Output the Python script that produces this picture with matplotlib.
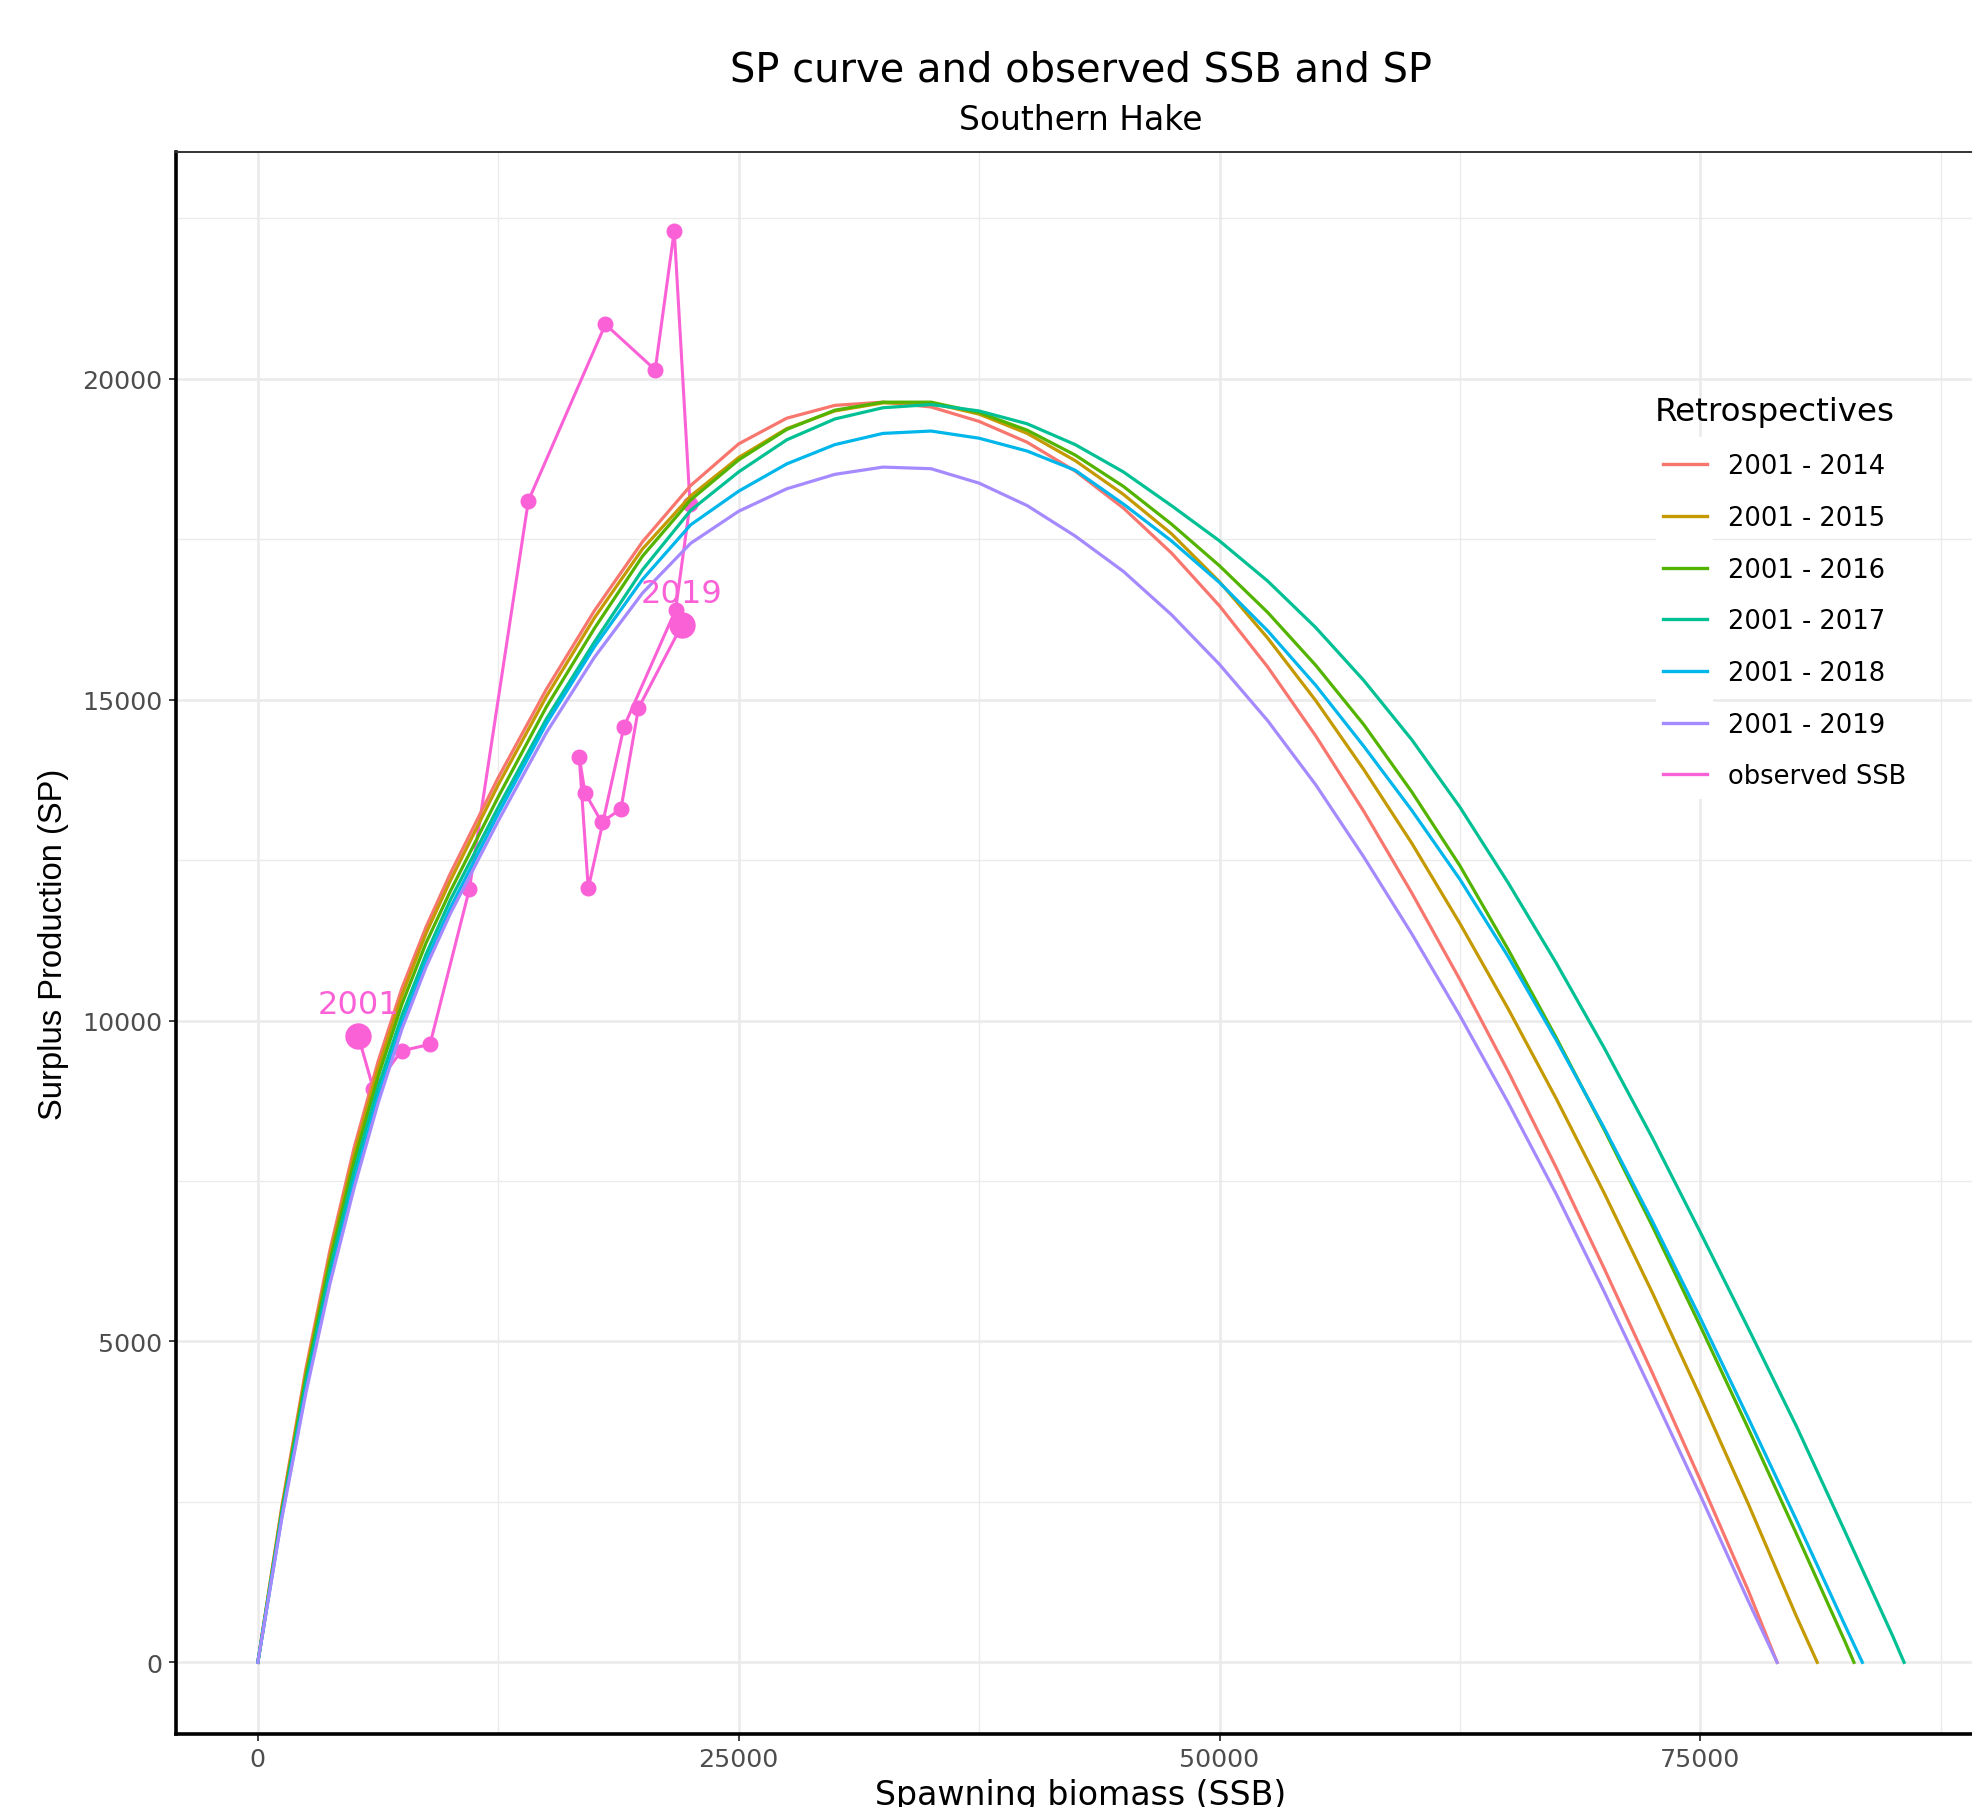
import matplotlib
matplotlib.use("Agg")
import matplotlib.pyplot as plt
from matplotlib.lines import Line2D
from matplotlib.patches import Rectangle

plt.rcParams['font.family'] = ['DejaVu Sans']

# ---------------- data ----------------
ssb_grid = [0, 1250, 2500, 3750, 5000, 6250, 7500, 8750, 10000,
            12500, 15000, 17500, 20000, 22500, 25000, 27500, 30000, 32500,
            35000, 37500, 40000, 42500, 45000, 47500, 50000, 52500, 55000,
            57500, 60000, 62500, 65000, 67500, 70000, 72500, 75000, 77500,
            80000, 82500, 85000]

retro_labels = ["2001 - 2014", "2001 - 2015", "2001 - 2016",
                "2001 - 2017", "2001 - 2018", "2001 - 2019"]

# SSB where each curve returns to zero
k_2014 = 78990
k_2015 = 81075
k_2016 = 82985
k_2017 = 85590
k_2018 = 83420
k_2019 = 78990

sp_2014 = [0, 2438, 4575, 6425, 8012, 9362, 10512, 11462, 12287,
           13787, 15162, 16387, 17462, 18337, 18987, 19387, 19587, 19637,
           19562, 19337, 19012, 18562, 17987, 17287, 16462, 15512, 14437,
           13262, 11987, 10637, 9212, 7712, 6137, 4512, 2837, 1112]
sp_2015 = [0, 2400, 4512, 6337, 7912, 9250, 10400, 11362, 12175,
           13675, 15050, 16275, 17350, 18175, 18775, 19225, 19500, 19625,
           19625, 19450, 19150, 18725, 18200, 17587, 16837, 15962, 14987,
           13912, 12762, 11512, 10187, 8787, 7312, 5762, 4137, 2462,
           712]
sp_2016 = [0, 2362, 4450, 6250, 7800, 9125, 10262, 11212, 12012,
           13487, 14887, 16112, 17237, 18112, 18737, 19212, 19512, 19637,
           19637, 19475, 19200, 18812, 18325, 17737, 17087, 16362, 15537,
           14612, 13562, 12412, 11112, 9737, 8300, 6800, 5237, 3637,
           1999, 336]
sp_2017 = [0, 2325, 4362, 6125, 7650, 8962, 10087, 11037, 11875,
           13325, 14700, 15900, 17025, 17950, 18550, 19050, 19375, 19550,
           19600, 19500, 19300, 18975, 18550, 18025, 17475, 16850, 16125,
           15300, 14375, 13325, 12150, 10900, 9575, 8175, 6700, 5200,
           3675, 2050, 410]
sp_2018 = [0, 2275, 4250, 5962, 7487, 8812, 9962, 10925, 11750,
           13225, 14625, 15825, 16875, 17725, 18250, 18675, 18975, 19150,
           19187, 19075, 18875, 18575, 18050, 17475, 16825, 16075, 15225,
           14275, 13275, 12200, 11000, 9700, 8325, 6875, 5362, 3800,
           2212, 587]
sp_2019 = [0, 2250, 4200, 5900, 7387, 8712, 9875, 10837, 11662,
           13112, 14487, 15662, 16662, 17437, 17937, 18287, 18512, 18625,
           18600, 18375, 18025, 17550, 17000, 16325, 15550, 14675, 13675,
           12550, 11350, 10075, 8725, 7300, 5775, 4200, 2600, 950]

years_obs = list(range(2001, 2020))
ssb_obs = [5225, 6000, 7480, 8950, 11000, 14065, 18070, 20660, 21650, 22470,
           21720, 19035, 17180, 16710, 17010, 17880, 18880, 19790, 22040]
sp_obs = [9760, 8940, 9530, 9630, 12050, 18100, 20850, 20140, 22310, 18050,
          16400, 14580, 12060, 14110, 13550, 13090, 13300, 14870, 16160]

colors = ["#F8766D", "#C49A00", "#53B400", "#00C094", "#00B6EB", "#A58AFF"]
obs_color = "#FB61D7"

# ---------------- figure ----------------
W, H = 1972, 1808
fig = plt.figure(figsize=(W / 100, H / 100), dpi=100)
ax = fig.add_axes([0.0890, 0.0406, 0.9183, 0.8746])
ax.set_xlim(-4280, 89870)
ax.set_ylim(-1110, 23530)

# grid
ax.set_xticks([0, 25000, 50000, 75000])
ax.set_xticks([12500, 37500, 62500, 87500], minor=True)
ax.set_yticks([0, 5000, 10000, 15000, 20000])
ax.set_yticks([2500, 7500, 12500, 17500, 22500], minor=True)
ax.set_xticklabels(["0", "25000", "50000", "75000"])
ax.set_yticklabels(["0", "5000", "10000", "15000", "20000"])
ax.grid(which='major', color='#EBEBEB', lw=1.9)
ax.grid(which='minor', color='#EBEBEB', lw=1.0)
ax.set_axisbelow(True)
ax.tick_params(which='minor', length=0)
ax.tick_params(which='major', length=4.7, width=1.3, color='#333333',
               labelsize=18.3, labelcolor='#4D4D4D', pad=5)

for side in ('left', 'bottom'):
    ax.spines[side].set_color('black')
    ax.spines[side].set_linewidth(2.6)
ax.spines['top'].set_color('#333333')
ax.spines['top'].set_linewidth(1.4)
ax.spines['right'].set_visible(False)

# observed SSB / SP path (drawn below the curves)
ax.plot(ssb_obs, sp_obs, color=obs_color, lw=2.2, marker='o', ms=10.5,
        zorder=2)
ax.plot([ssb_obs[0], ssb_obs[-1]], [sp_obs[0], sp_obs[-1]], 'o',
        color=obs_color, ms=18, zorder=2)
for i, off in ((0, 16.5), (len(years_obs) - 1, 17)):
    ax.annotate(str(years_obs[i]), (ssb_obs[i], sp_obs[i]), xytext=(0, off),
                textcoords='offset points', ha='center', va='baseline',
                fontsize=23, color=obs_color, zorder=4)

# retrospective SP curves
curves = [(k_2014, sp_2014), (k_2015, sp_2015), (k_2016, sp_2016),
          (k_2017, sp_2017), (k_2018, sp_2018), (k_2019, sp_2019)]
for (k, sp), col in zip(curves, colors):
    xs = ssb_grid[:len(sp)] + [k]
    ys = sp + [0]
    ax.plot(xs, ys, color=col, lw=2.3, zorder=3, solid_joinstyle='round')

# titles
fig.text(1081 / W, 1 - 81.7 / H, "SP curve and observed SSB and SP",
         ha='center', va='baseline', fontsize=28.8)
fig.text(1081 / W, 1 - 130 / H, "Southern Hake",
         ha='center', va='baseline', fontsize=23.7)

ax.set_xlabel("Spawning biomass (SSB)", fontsize=23.9)
ax.xaxis.set_label_coords(0.5, -0.0445)
ax.xaxis.label.set_va('baseline')
ax.set_ylabel("Surplus Production (SP)", fontsize=23.6,
              family=['Liberation Sans', 'DejaVu Sans'])
ax.yaxis.set_label_coords(-0.0629, 0.5)
ax.yaxis.label.set_va('baseline')

# legend: white key backgrounds, no overall background
key_bg = Rectangle((1656 / W, 1 - 800 / H), 57 / W, 362 / H,
                   transform=fig.transFigure, facecolor='white',
                   edgecolor='none', zorder=1.5, clip_on=False)
ax.add_artist(key_bg)

handles = [Line2D([], [], color=c, lw=2.4) for c in colors]
handles.append(Line2D([], [], color=obs_color, lw=2.4))
labels = retro_labels + ["observed SSB"]
leg = ax.legend(handles, labels, loc='upper left',
                bbox_to_anchor=(1662.7 / W, 1 - 397.5 / H),
                bbox_transform=fig.transFigure, frameon=False,
                fontsize=18.5, title="Retrospectives", title_fontsize=23.4,
                handlelength=1.72, handletextpad=0.82, labelspacing=1.0,
                borderpad=0, borderaxespad=0, alignment='left')
leg.set_zorder(5)
leg.get_title().set_position((-8, 0))

fig.savefig("out.png", dpi=100)
